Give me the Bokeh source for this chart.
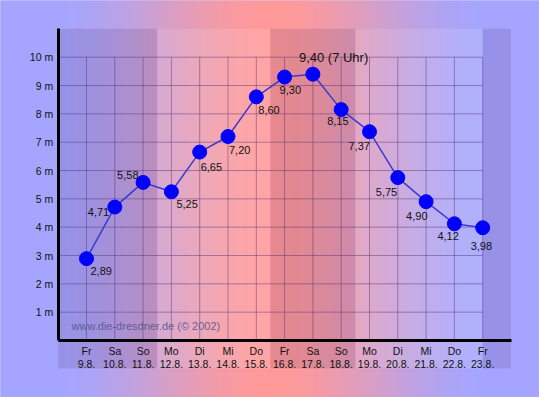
from bokeh.plotting import figure
from bokeh.models import Range1d, FixedTicker, ColumnDataSource, Label
from bokeh.core.properties import value
from bokeh.embed import file_html
from bokeh.resources import INLINE

# ---------------- data ----------------
weekdays = ["Fr", "Sa", "So", "Mo", "Di", "Mi", "Do", "Fr", "Sa", "So", "Mo", "Di", "Mi", "Do", "Fr"]
dates = ["9.8.", "10.8.", "11.8.", "12.8.", "13.8.", "14.8.", "15.8.", "16.8.",
         "17.8.", "18.8.", "19.8.", "20.8.", "21.8.", "22.8.", "23.8."]
levels = [2.89, 4.71, 5.58, 5.25, 6.65, 7.20, 8.60, 9.30, 9.40, 8.15, 7.37, 5.75, 4.90, 4.12, 3.98]
y_ticks = [1, 2, 3, 4, 5, 6, 7, 8, 9, 10]
peak_note = "7 Uhr"
watermark = "www.die-dresdner.de (\u00a9 2002)"

# ---------------- layout / style ----------------
W, H, MARGIN = 539, 397, 0
PX_X, PX_Y = 28.3, 28.33          # pixels per day / per metre
X0_PAGE, Y0_PAGE = 86, 340        # page position of day 0 / level 0
x_lo = (MARGIN - X0_PAGE) / PX_X
x_hi = (MARGIN + W - X0_PAGE) / PX_X
y_hi = (Y0_PAGE - MARGIN) / PX_Y
y_lo = (Y0_PAGE - MARGIN - H) / PX_Y

FONT_NAME = "Liberation Sans"
FONT = value(FONT_NAME)
BLUE_BG = (165, 165, 255)
PINK_BG = (255, 153, 153)

# label offsets in pixels (dx, dy) relative to each point
label_dx = [4, -27, -26, 5, 1, 1, 2, -5, -14, -14, -21, -22, -20, -17, -12]
label_dy = [12, 5, -7, 12, 15, 13, 13, 13, -17, 11, 14, 14, 14, 12, 18]

p = figure(width=W, height=H, x_range=Range1d(x_lo, x_hi), y_range=Range1d(y_lo, y_hi),
           output_backend="svg", toolbar_location=None, min_border=0,
           outline_line_color=None, border_fill_color="#a5a5ff",
           background_fill_color="#a5a5ff")
p.grid.visible = False

# background gradient (horizontal)
def bg_color(px):
    if px <= 50 or px >= 490:
        t = 0.0
    elif px < 270:
        t = (px - 50) / 220.0
    else:
        t = (490 - px) / 220.0
    t = t * t * (3 - 2 * t)
    c = [round(b + (q - b) * t) for b, q in zip(BLUE_BG, PINK_BG)]
    return "#%02x%02x%02x" % tuple(c)

g_left, g_right, g_col = [], [], []
for px in range(MARGIN - 2, MARGIN + W + 2, 2):
    g_left.append((px - X0_PAGE) / PX_X)
    g_right.append((px + 2.6 - X0_PAGE) / PX_X)
    g_col.append(bg_color(px + 1))
p.quad(left=g_left, right=g_right, bottom=y_lo - 1, top=y_hi + 1,
       fill_color=g_col, line_color=None)

# weekend / weekday bands
band_l = [-1, 2.5, 6.5, 9.5, 14]
band_r = [2.5, 6.5, 9.5, 14, 15]
band_c = ["#3a1a4a", "#ffffff", "#3a1a4a", "#ffffff", "#3a1a4a"]
band_a = [0.13, 0.12, 0.13, 0.12, 0.13]
p.quad(left=band_l, right=band_r, bottom=-0.99, top=11.0,
       fill_color=band_c, fill_alpha=band_a, line_color=None)

# grid lines
n = len(levels)
days = list(range(n))
p.segment(x0=[-1] * len(y_ticks), x1=[n - 1] * len(y_ticks), y0=y_ticks, y1=y_ticks,
          line_color="#503070", line_alpha=0.45, line_width=1)
p.segment(x0=days, x1=days, y0=[0] * n, y1=[max(y_ticks)] * n,
          line_color="#503070", line_alpha=0.45, line_width=1)

# axes
ya = p.yaxis[0]
ya.fixed_location = -1
ya.bounds = (0, 11)
ya.ticker = FixedTicker(ticks=y_ticks)
ya.major_label_overrides = {t: f"{t} m" for t in y_ticks}
xa = p.xaxis[0]
xa.fixed_location = 0
xa.bounds = (-1, 15)
xa.ticker = FixedTicker(ticks=days)
xa.major_label_overrides = {i: f"{weekdays[i]}\n{dates[i]}" for i in days}
for ax in (xa, ya):
    ax.axis_line_width = 3
    ax.axis_line_color = "black"
    ax.major_tick_out = 0
    ax.major_tick_in = 0
    ax.minor_tick_out = 0
    ax.minor_tick_in = 0
    ax.major_label_text_font = FONT_NAME
    ax.major_label_text_font_size = "10.5px"
    ax.major_label_text_color = "#111111"
ya.major_label_standoff = 5
xa.major_label_standoff = 4
xa.major_label_text_line_height = 1.15

# watermark
p.add_layout(Label(x=(71 - X0_PAGE) / PX_X, y=(Y0_PAGE - 325) / PX_Y, text=watermark,
                   text_font=FONT_NAME, text_font_size="11px",
                   text_color="#55558a", text_alpha=0.9, text_baseline="middle"))

# series
p.line(days, levels, line_color="#3a3ad0", line_width=1.5)
p.scatter(days, levels, size=14, fill_color="#0000ff", line_color="#0000ff")

def fmt(v):
    return f"{v:.2f}".replace(".", ",")

imax = max(range(n), key=lambda i: levels[i])
src = ColumnDataSource(dict(
    x=[d for d in days if d != imax],
    y=[levels[d] for d in days if d != imax],
    text=[fmt(levels[d]) for d in days if d != imax],
    dx=[label_dx[d] for d in days if d != imax],
    dy=[label_dy[d] for d in days if d != imax],
))
p.text(x="x", y="y", text="text", x_offset="dx", y_offset="dy", source=src,
       text_align="left", text_baseline="middle", text_font=FONT,
       text_font_size="11px", text_color="#111111")
p.text(x=[imax], y=[levels[imax]], text=[f"{fmt(levels[imax])} ({peak_note})"],
       x_offset=label_dx[imax], y_offset=label_dy[imax],
       text_align="left", text_baseline="middle", text_font=FONT,
       text_font_size="13px", text_color="#111111")

open("out.html", "w").write(file_html(p, INLINE))
